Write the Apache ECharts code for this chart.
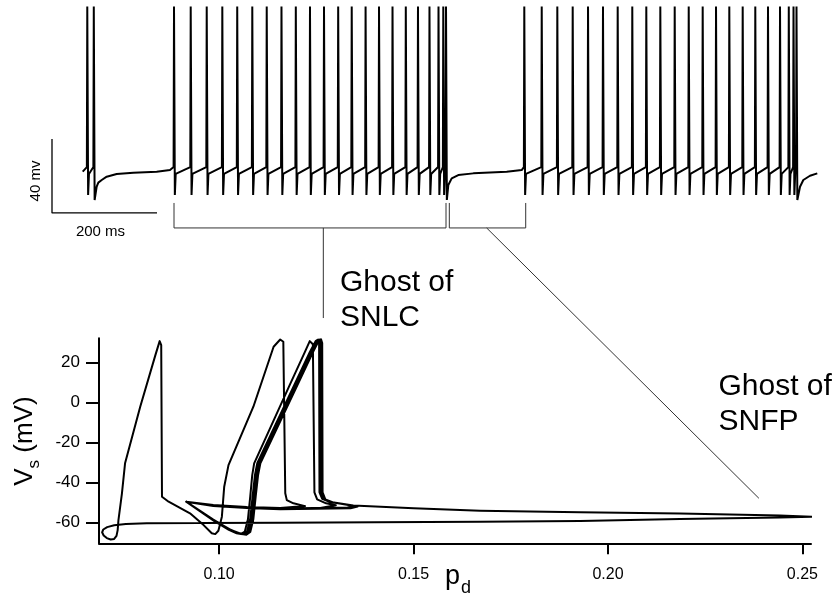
<!DOCTYPE html>
<html>
<head>
<meta charset="utf-8">
<script src="https://cdn.jsdelivr.net/npm/echarts@6/dist/echarts.min.js"></script>
<style>
  html, body { margin: 0; padding: 0; background: #fff; }
  #chart { width: 840px; height: 598px; }
</style>
</head>
<body>
<div id="chart"></div>
<script>
// ---------- membrane potential trace (time in ms, voltage in mV) ----------
const spikesBefore = [67.2, 79.6];
const burst1Spikes = [232.4, 264.2, 294.7, 324.4, 352.8, 381.5, 409.0, 437.1, 464.4, 491.4, 518.1,
  545.1, 570.9, 597.3, 622.9, 648.6, 673.9, 697.1, 719.0, 736.2, 745.3, 750.5];
const burst2Spikes = [899.6, 932.8, 962.5, 991.8, 1021.0, 1049.5, 1077.5, 1105.3, 1132.0, 1158.7, 1186.1,
  1212.8, 1239.4, 1264.8, 1290.1, 1315.6, 1339.6, 1363.8, 1386.7, 1403.4, 1412.4, 1418.1];
const peakV = 30, troughV = -71.9, settleV = -60.5, preSpikeV = -56.8, lastTroughV = -74.6;
const traceStart = [58.5, -59.3];
const recovery0 = [[85.1, -67.4], [88.2, -65.2], [94.7, -63.8], [104.2, -62.0], [123.2, -60.5],
  [154.9, -59.8], [199.4, -59.3], [224.8, -58.4]];
const recovery1 = [[754.9, -66.5], [761.3, -62.9], [773.9, -61.1], [802.5, -60.2], [866.1, -59.3], [894.7, -58.4]];
const recovery2 = [[1424.8, -67.4], [1431.1, -63.8], [1443.8, -61.5], [1457.7, -60.2]];

// scale bars and brackets (ms, mV)
const scaleBar = [[0, -41.6], [0, -81.6], [200, -81.6]];
const bracketSNLC = [[232.4, -76.2], [232.4, -89.7], [750.5, -89.7], [750.5, -76.2]];
const stemSNLC = [[516.8, -89.7], [516.8, -138.4]];
const bracketSNFP = [[756.8, -76.2], [756.8, -89.7], [902.3, -89.7], [902.3, -76.2]];
const snfpLineStart = [827.9, -89.7];
const snfpLineEnd = [0.2388, -48];

// ---------- phase plane trajectory (p_d, V_s) ----------
const silenceReturn = [[0.2524, -57.2], [0.2442, -57.6], [0.2185, -58.4], [0.1928, -59.3], [0.1671, -59.7],
  [0.1400, -60.0], [0.1157, -60.2], [0.0950, -60.3], [0.0814, -60.5], [0.0760, -60.9], [0.0730, -61.5],
  [0.0712, -62.4], [0.0702, -63.6], [0.0699, -65.0], [0.0703, -66.6], [0.0711, -67.9], [0.0721, -68.6],
  [0.0730, -68.3], [0.0736, -66.8], [0.0739, -63.9]];
const spikeLoop1 = [[0.0741, -58.9], [0.0750, -45.5], [0.0758, -30.5], [0.0797, -2.2], [0.0836, 23.6],
  [0.0847, 30.6], [0.0851, 28.6], [0.0853, -47.2], [0.0870, -49.7], [0.0925, -55.5], [0.0960, -61.4],
  [0.0981, -65.5], [0.0990, -65.9], [0.0998, -64.2], [0.1007, -57.2], [0.1013, -42.2], [0.1024, -31.4]];
const spikeLoop2 = [[0.1088, -2.2], [0.1140, 27.8], [0.1157, 31.4], [0.1165, 30.3], [0.1170, -45.5],
  [0.1174, -48.9], [0.1191, -50.5], [0.1221, -51.9], [0.1157, -52.9], [0.1071, -52.4], [0.0985, -51.3],
  [0.0915, -49.7]];
const spikeLoop3 = [[0.0985, -59.0], [0.1025, -63.8], [0.1045, -65.5], [0.1056, -65.9], [0.1066, -64.6],
  [0.1074, -58.5], [0.1080, -47.0], [0.1085, -36.5], [0.1090, -30.5], [0.1181, 8.5], [0.1220, 25.0],
  [0.1233, 30.6], [0.1238, 31.0], [0.1241, 29.0], [0.1245, -45.0], [0.1252, -48.5], [0.1275, -50.5],
  [0.1300, -51.5], [0.1260, -52.8], [0.1157, -53.0], [0.1071, -52.5], [0.0985, -51.4], [0.0915, -49.7]];
const ghostLoopA = [[0.0985, -58.6], [0.1028, -63.6], [0.1050, -65.4], [0.1062, -65.9], [0.1072, -64.5],
  [0.1080, -58.0], [0.1086, -47.0], [0.1092, -36.5], [0.1098, -30.5], [0.1193, 8.5], [0.1233, 25.0],
  [0.1248, 30.6], [0.1254, 31.3], [0.1257, 29.5], [0.1258, -45.0], [0.1265, -48.3], [0.1285, -49.9],
  [0.1330, -51.2], [0.1348, -51.8], [0.1330, -52.6], [0.1157, -53.1], [0.1071, -52.6], [0.0985, -51.5],
  [0.0915, -49.7]];
const ghostLoopB = [[0.0986, -58.9], [0.1030, -63.8], [0.1052, -65.5], [0.1064, -66.0], [0.1074, -64.6],
  [0.1082, -58.1], [0.1088, -47.0], [0.1094, -36.5], [0.1100, -30.5], [0.1195, 8.5], [0.1235, 25.0],
  [0.1250, 30.6], [0.1256, 31.3], [0.1259, 29.5], [0.1260, -45.0], [0.1267, -48.3], [0.1287, -49.9],
  [0.1332, -51.3], [0.1350, -51.9], [0.1332, -52.7], [0.1157, -53.2], [0.1071, -52.7], [0.0985, -51.6],
  [0.0915, -49.7]];
const ghostLoopC = [[0.0987, -59.2], [0.1031, -64.1], [0.1054, -65.7], [0.1066, -66.1], [0.1076, -64.7],
  [0.1084, -58.2], [0.1090, -47.0], [0.1096, -36.5], [0.1102, -30.5], [0.1197, 8.5], [0.1237, 25.0],
  [0.1252, 30.7], [0.1258, 31.4], [0.1261, 29.6], [0.1262, -45.0], [0.1269, -48.4], [0.1289, -50.0],
  [0.1334, -51.4], [0.1352, -52.0], [0.1334, -52.9], [0.1157, -53.4], [0.1071, -52.8], [0.0985, -51.7],
  [0.0915, -49.7]];
const ghostLoopD = [[0.0989, -59.6], [0.1034, -64.4], [0.1058, -65.9], [0.1070, -66.2], [0.1080, -64.8],
  [0.1088, -58.3], [0.1094, -47.0], [0.1100, -36.5], [0.1106, -30.5], [0.1201, 8.5], [0.1241, 25.0],
  [0.1256, 30.8], [0.1262, 31.5], [0.1265, 29.6], [0.1266, -45.0], [0.1273, -48.5], [0.1293, -50.1],
  [0.1338, -51.5], [0.1356, -52.1], [0.1338, -53.0], [0.1157, -53.5], [0.1071, -52.9], [0.0985, -51.8],
  [0.0915, -49.7]];
const lastLoop = [[0.0988, -59.4], [0.1032, -64.2], [0.1056, -65.8], [0.1068, -66.1], [0.1078, -64.7],
  [0.1086, -58.2], [0.1092, -47.0], [0.1098, -36.5], [0.1104, -30.5], [0.1199, 8.5], [0.1239, 25.0],
  [0.1254, 30.7], [0.1260, 31.4], [0.1263, 29.6], [0.1264, -45.0], [0.1271, -48.4], [0.1291, -50.0],
  [0.1345, -51.6]];
const silenceOut = [[0.1500, -53.0], [0.1671, -54.2], [0.1928, -55.0], [0.2185, -55.6], [0.2442, -56.6],
  [0.2524, -57.2]];

const pdTicks = [0.10, 0.15, 0.20, 0.25];
const vsTicks = [-60, -40, -20, 0, 20];

// ---------- assemble the voltage trace ----------
function addSpike(arr, t, trough, settle) {
  arr.push([t - 0.8, preSpikeV], [t, peakV], [t + 1.6, trough]);
  if (settle !== null) arr.push([t + 3.2, settle]);
}
function addBurst(arr, times, recovery) {
  times.forEach((t, i) => {
    const last = i === times.length - 1;
    addSpike(arr, t, last ? lastTroughV : troughV, last ? null : settleV);
  });
  recovery.forEach(p => arr.push(p));
}
const trace = [traceStart];
addBurst(trace, spikesBefore, recovery0);
addBurst(trace, burst1Spikes, recovery1);
addBurst(trace, burst2Spikes, recovery2);

const phasePath = [].concat(silenceReturn, spikeLoop1, spikeLoop2, spikeLoop3,
  ghostLoopA, ghostLoopB, ghostLoopC, ghostLoopD, lastLoop, silenceOut);

// ---------- chart ----------
const FONT = "'Liberation Sans', Arial, Helvetica, sans-serif";
const chart = echarts.init(document.getElementById('chart'), null, { renderer: 'canvas' });

function plainLine(data, width, color) {
  return {
    type: 'line', xAxisIndex: 0, yAxisIndex: 0, data: data,
    symbol: 'none', showSymbol: false, clip: false, silent: true, z: 3,
    lineStyle: { color: color, width: width }
  };
}

chart.setOption({
  animation: false,
  backgroundColor: '#fff',
  grid: [
    { left: 52, top: 6.5, width: 766.5, height: 222, outerBoundsMode: 'none' },
    { left: 99, top: 338.3, width: 712, height: 205, outerBoundsMode: 'none' }
  ],
  xAxis: [
    { gridIndex: 0, type: 'value', min: 0, max: 1460, show: false },
    {
      gridIndex: 1, type: 'value', min: 0.0691, max: 0.2522,
      axisLine: { onZero: false, lineStyle: { color: '#000', width: 2 } },
      axisTick: { length: 11, customValues: pdTicks, lineStyle: { color: '#000', width: 2 } },
      axisLabel: { customValues: pdTicks, formatter: v => v.toFixed(2), margin: 23,
        fontSize: 16, color: '#000', fontFamily: FONT },
      splitLine: { show: false }
    }
  ],
  yAxis: [
    { gridIndex: 0, type: 'value', min: -90, max: 30, show: false },
    {
      gridIndex: 1, type: 'value', min: -70.5, max: 32,
      axisLine: { onZero: false, lineStyle: { color: '#000', width: 2 } },
      axisTick: { length: 13, customValues: vsTicks, lineStyle: { color: '#000', width: 2 } },
      axisLabel: { customValues: vsTicks, formatter: v => String(v), margin: 19,
        fontSize: 17, color: '#000', fontFamily: FONT },
      splitLine: { show: false }
    }
  ],
  series: [
    {
      type: 'line', name: 'Vs trace', xAxisIndex: 0, yAxisIndex: 0, data: trace,
      symbol: 'none', showSymbol: false, silent: true, z: 4,
      lineStyle: { color: '#000', width: 2, join: 'bevel' }
    },
    plainLine(scaleBar, 1.3, '#000'),
    plainLine(bracketSNLC, 1, '#333'),
    plainLine(stemSNLC, 1, '#333'),
    plainLine(bracketSNFP, 1, '#333'),
    {
      type: 'line', name: 'phase', xAxisIndex: 1, yAxisIndex: 1, data: phasePath,
      symbol: 'none', showSymbol: false, silent: true, z: 4,
      lineStyle: { color: '#000', width: 2, join: 'round', cap: 'round' }
    }
  ]
});

// pointer line from the quiescent interval to its trajectory segment
const lineFrom = chart.convertToPixel({ xAxisIndex: 0, yAxisIndex: 0 }, snfpLineStart);
const lineTo = chart.convertToPixel({ xAxisIndex: 1, yAxisIndex: 1 }, snfpLineEnd);

const textStyle = (txt, size, extra) => Object.assign({
  text: txt, fontSize: size, fontFamily: FONT, fill: '#000'
}, extra || {});

chart.setOption({
  graphic: [
    {
      type: 'line', silent: true, z: 2,
      shape: { x1: lineFrom[0], y1: lineFrom[1], x2: lineTo[0], y2: lineTo[1] },
      style: { stroke: '#333', lineWidth: 1 }
    },
    { type: 'text', x: 340, y: 265.5, silent: true,
      style: textStyle('Ghost of\nSNLC', 30, { lineHeight: 35, verticalAlign: 'top', align: 'left' }) },
    { type: 'text', x: 718.5, y: 369.5, silent: true,
      style: textStyle('Ghost of\nSNFP', 30, { lineHeight: 35, verticalAlign: 'top', align: 'left' }) },
    { type: 'text', x: 100.5, y: 231.5, silent: true,
      style: textStyle('200 ms', 15, { align: 'center', verticalAlign: 'middle' }) },
    { type: 'text', x: 36, y: 181, rotation: Math.PI / 2, silent: true,
      style: textStyle('40 mv', 15, { align: 'center', verticalAlign: 'middle' }) },
    // y-axis title V_s (mV), reading bottom to top
    {
      type: 'group', x: 33.5, y: 441, rotation: Math.PI / 2, silent: true,
      children: [
        { type: 'text', x: -44.7, y: -9.0, style: textStyle('V', 26, { align: 'left', verticalAlign: 'middle' }) },
        { type: 'text', x: -27.6, y: 0.5, style: textStyle('s', 17, { align: 'left', verticalAlign: 'middle' }) },
        { type: 'text', x: -19.0, y: -9.0, style: textStyle(' (mV)', 26, { align: 'left', verticalAlign: 'middle' }) }
      ]
    },
    // x-axis title p_d
    { type: 'text', x: 445, y: 576.3, silent: true,
      style: textStyle('p', 27, { align: 'left', verticalAlign: 'middle' }) },
    { type: 'text', x: 461, y: 587.8, silent: true,
      style: textStyle('d', 18, { align: 'left', verticalAlign: 'middle' }) }
  ]
});
</script>
</body>
</html>
